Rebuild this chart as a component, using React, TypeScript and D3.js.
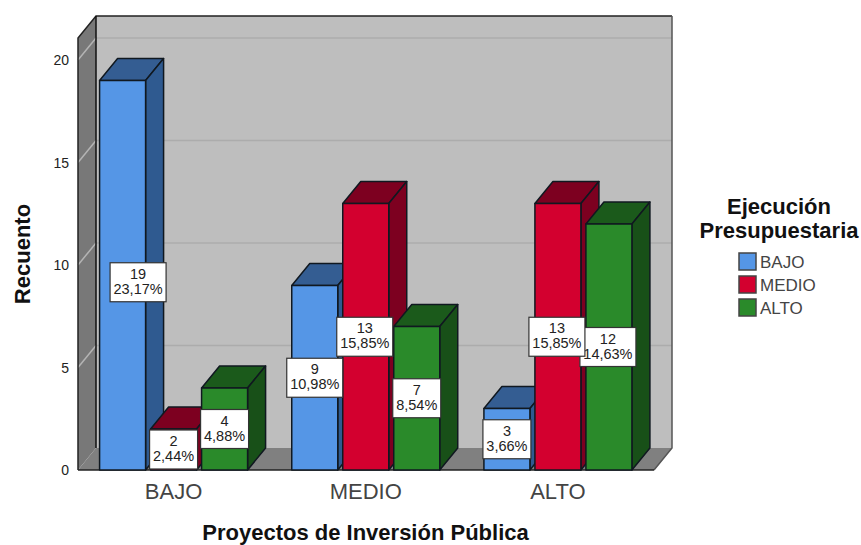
import React from "react";
import * as d3 from "d3";

const categories = ["BAJO", "MEDIO", "ALTO"];
const seriesNames = ["BAJO", "MEDIO", "ALTO"];
const seriesBajo = [19, 9, 3];
const seriesMedio = [2, 13, 13];
const seriesAlto = [4, 7, 12];
const pctBajo = ["23,17%", "10,98%", "3,66%"];
const pctMedio = ["2,44%", "15,85%", "15,85%"];
const pctAlto = ["4,88%", "8,54%", "14,63%"];
const yTicks = [0, 5, 10, 15, 20];

const frontColors = ["#5596e6", "#d3002f", "#2a8a2a"];
const topColors = ["#345d92", "#7d0020", "#1b5a1b"];
const sideColors = ["#2f5a90", "#7d0020", "#185018"];

const W = 861;
const H = 545;
const DX = 18;
const DY = -22;
const Y0 = 470;
const UNIT = 20.5;
const BAR_W = 46;
const LINE = "#101820";
const FONT = "Arial, 'Liberation Sans', sans-serif";

const y = d3.scaleLinear().domain([0, 20]).range([Y0, Y0 - 20 * UNIT]);
const x = d3.scaleBand<string>().domain(categories).range([77.5, 654]);
const inner = d3.scaleBand<string>().domain(seriesNames).range([-76.5, 76.5]);

const line = d3.line<[number, number]>();
const poly = (pts: [number, number][]) => line(pts) + "Z";

// Depth-offset boxes drawn left to right so nearer bars overlap farther ones
function Bar({ cx, value, s }: { cx: number; value: number; s: number }) {
  const l = cx - BAR_W / 2;
  const r = cx + BAR_W / 2;
  const t = y(value);
  return (
    <g stroke={LINE} strokeWidth={1.5} strokeLinejoin="round">
      <path d={poly([[l, t], [l + DX, t + DY], [r + DX, t + DY], [r, t]])} fill={topColors[s]} />
      <path d={poly([[r, t], [r + DX, t + DY], [r + DX, Y0 + DY], [r, Y0]])} fill={sideColors[s]} />
      <rect x={l} y={t} width={BAR_W} height={Y0 - t} fill={frontColors[s]} />
    </g>
  );
}

function Label({ cx, cy, value, pct }: { cx: number; cy: number; value: number; pct: string }) {
  const w = pct.length > 5 ? 56 : 48;
  return (
    <g>
      <rect x={cx - w / 2} y={cy - 19.5} width={w} height={39} fill="#fff" stroke="#333" strokeWidth={1.2} />
      <text x={cx} y={cy - 3.5} textAnchor="middle" fontSize={14.5} fontFamily={FONT} fill="#222">{value}</text>
      <text x={cx} y={cy + 11.5} textAnchor="middle" fontSize={14.5} fontFamily={FONT} fill="#222">{pct}</text>
    </g>
  );
}

export default function App() {
  const series = [seriesBajo, seriesMedio, seriesAlto];
  const pcts = [pctBajo, pctMedio, pctAlto];
  const floorY = Y0 + DY;
  const xL = 78;
  const xR = 654;
  const topFront = 38;

  const bars = categories.flatMap((c, i) =>
    seriesNames.map((n, s) => ({
      key: c + n,
      cx: x(c)! + x.bandwidth() / 2 + inner(n)! + inner.bandwidth() / 2,
      value: series[s][i],
      pct: pcts[s][i],
      s,
    }))
  );

  // Boxes sit at the bar's mid-height; the tallest bar's box is pushed toward its depth side.
  // Later series are painted first, so an earlier series' box overlaps its neighbour.
  const labelOrder = [...bars].sort((a, b) => b.s - a.s);
  const labelCx = (b: (typeof bars)[number]) => (b.value > 15 ? b.cx + 15.5 : b.value >= 12 ? b.cx - 1 : b.cx);

  return (
    <svg width={W} height={H} style={{ position: "absolute", left: 0, top: 0, background: "#fff" }}>
      <path d={poly([[xL + DX, topFront + DY], [xR + DX, topFront + DY], [xR + DX, floorY], [xL + DX, floorY]])} fill="#bebebe" stroke="none" />
      <path d={poly([[xL, topFront], [xL + DX, topFront + DY], [xL + DX, floorY], [xL, Y0]])} fill="#787878" stroke="none" />
      <path d={poly([[xL, Y0], [xL + DX, floorY], [xR + DX, floorY], [xR, Y0]])} fill="#808080" stroke="none" />

      {yTicks.map((t) => (
        <g key={t}>
          {t > 0 && (
            <>
              <path d={`M${xL + DX},${y(t) + DY}H${xR + DX}`} stroke="#acacac" strokeWidth={1.5} />
              <path d={`M${xL},${y(t)}L${xL + DX},${y(t) + DY}`} stroke="#b4b4b4" strokeWidth={1.5} />
            </>
          )}
          <text x={69} y={y(t) + 5} textAnchor="end" fontSize={14} fontFamily={FONT} fill="#222">{t}</text>
        </g>
      ))}

      <path d={`M${xL},${Y0}V${topFront}L${xL + DX},${topFront + DY}H${xR + DX}`} fill="none" stroke="#222" strokeWidth={1.5} />
      <path d={`M${xL + DX},${topFront + DY}V${floorY}`} fill="none" stroke="#111" strokeWidth={1.5} />
      <path d={`M${xR + DX},${topFront + DY}V${floorY}L${xR},${Y0}`} fill="none" stroke="#555" strokeWidth={1.5} />
      <path d={`M${xL},${Y0}H${xR}`} fill="none" stroke="#222" strokeWidth={1.5} />

      {bars.map((b) => <Bar key={b.key} cx={b.cx} value={b.value} s={b.s} />)}
      {labelOrder.map((b) => (
        <Label key={b.key} cx={labelCx(b)} cy={(y(b.value) + Y0) / 2 + (b.value > 15 ? 7 : 0)} value={b.value} pct={b.pct} />
      ))}

      {categories.map((c) => (
        <text key={c} x={x(c)! + x.bandwidth() / 2} y={499} textAnchor="middle" fontSize={22} fontFamily={FONT} fill="#444">{c}</text>
      ))}

      <text x={365.5} y={540} textAnchor="middle" fontSize={22} fontWeight="bold" fontFamily={FONT} fill="#111">Proyectos de Inversión Pública</text>
      <text transform="translate(30,254) rotate(-90)" textAnchor="middle" fontSize={22} fontWeight="bold" fontFamily={FONT} fill="#111">Recuento</text>

      <text x={779} y={214} textAnchor="middle" fontSize={22} fontWeight="bold" fontFamily={FONT} fill="#111">Ejecución</text>
      <text x={779} y={238} textAnchor="middle" fontSize={22} fontWeight="bold" fontFamily={FONT} fill="#111">Presupuestaria</text>
      {seriesNames.map((n, s) => (
        <g key={n} transform={`translate(739,${253 + s * 23})`}>
          <rect width={17} height={17} fill={frontColors[s]} stroke="#444" strokeWidth={1.5} />
          <text x={21} y={15} fontSize={17} fontFamily={FONT} fill="#444">{n}</text>
        </g>
      ))}
    </svg>
  );
}
